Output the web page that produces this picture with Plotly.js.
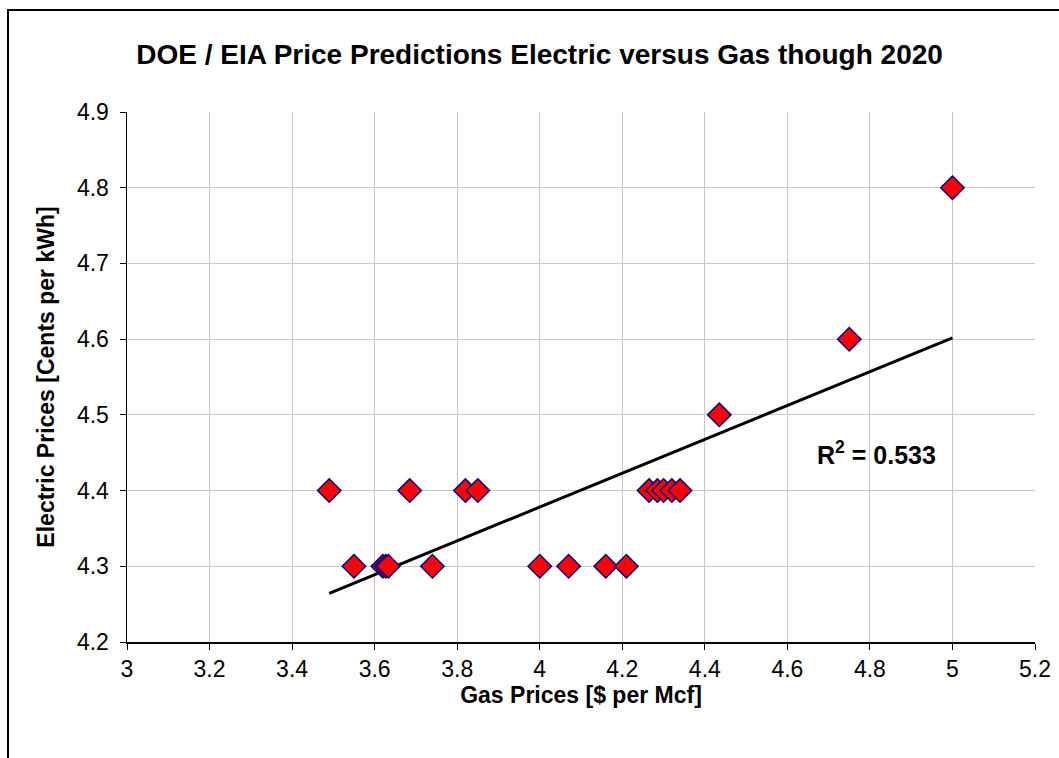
<!DOCTYPE html>
<html>
<head>
<meta charset="utf-8">
<script src="https://cdn.plot.ly/plotly-3.0.1.min.js"></script>
<style>
html,body{margin:0;padding:0;background:#fff;overflow:hidden;}
#chart{position:absolute;left:0;top:0;width:1059px;height:758px;}
#frame{position:absolute;left:7px;top:9px;width:1100px;height:800px;border:2px solid #000;pointer-events:none;}
</style>
</head>
<body>
<div id="chart"></div>
<div id="frame"></div>
<script>
const gasPrices = [3.49, 3.55, 3.62, 3.627, 3.633, 3.685, 3.74, 3.82, 3.85, 4.0, 4.07, 4.16, 4.21, 4.265, 4.285, 4.30, 4.32, 4.34, 4.435, 4.75, 5.0];
const electricPrices = [4.4, 4.3, 4.3, 4.3, 4.3, 4.4, 4.3, 4.4, 4.4, 4.3, 4.3, 4.3, 4.3, 4.4, 4.4, 4.4, 4.4, 4.4, 4.5, 4.6, 4.8];
const xTicks = [3, 3.2, 3.4, 3.6, 3.8, 4, 4.2, 4.4, 4.6, 4.8, 5, 5.2];
const yTicks = [4.2, 4.3, 4.4, 4.5, 4.6, 4.7, 4.8, 4.9];
const rSquaredLabel = 'R<sup>2</sup> = 0.533';

// least-squares trendline from the data
const n = gasPrices.length;
const mx = gasPrices.reduce((a,b)=>a+b,0)/n;
const my = electricPrices.reduce((a,b)=>a+b,0)/n;
let sxy=0, sxx=0;
for(let i=0;i<n;i++){sxy+=(gasPrices[i]-mx)*(electricPrices[i]-my);sxx+=(gasPrices[i]-mx)**2;}
const slope = sxy/sxx, icpt = my - slope*mx;
const xMin = Math.min(...gasPrices), xMax = Math.max(...gasPrices);
const trendX = [xMin, xMax];
const trendY = trendX.map(x=>icpt+slope*x);

const font = 'Liberation Sans, Arial, sans-serif';
const data = [
  {x: trendX, y: trendY, mode:'lines', type:'scatter', line:{color:'#000', width:3}, hoverinfo:'skip'},
  {x: gasPrices, y: electricPrices, mode:'markers', type:'scatter',
   marker:{symbol:'diamond', size:18, color:'#ff0000', line:{color:'#000080', width:1.5}}}
];
const layout = {
  width:1059, height:758,
  margin:{l:127, r:24, t:112, b:116},
  paper_bgcolor:'rgba(0,0,0,0)', plot_bgcolor:'#fff',
  showlegend:false,
  font:{family:font, color:'#000', size:23},
  title:{text:'<b>DOE / EIA Price Predictions Electric versus Gas though 2020</b>', font:{family:font, size:28, color:'#000'},
         x:0.5095, xref:'container', xanchor:'center', y:0.928, yref:'container', yanchor:'middle'},
  xaxis:{range:[3,5.2], tickvals:xTicks, ticktext:xTicks.map(String), showgrid:true, gridcolor:'#c8c8c8', gridwidth:1,
         zeroline:false, showline:true, linecolor:'#000', linewidth:1.5, ticks:'outside', ticklen:6, tickcolor:'#000',
         tickfont:{size:23}, title:{text:'<b>Gas Prices [$ per Mcf]</b>', font:{size:23}, standoff:0}},
  yaxis:{range:[4.2,4.9], tickvals:yTicks, ticktext:yTicks.map(v=>v.toFixed(1)), showgrid:true, gridcolor:'#c8c8c8', gridwidth:1,
         zeroline:false, showline:true, linecolor:'#000', linewidth:1.5, ticks:'outside', ticklen:6, tickcolor:'#000',
         ticklabelstandoff:6,
         tickfont:{size:23}, title:{text:'<b>Electric Prices [Cents per kWh]</b>', font:{size:23}, standoff:16}},
  annotations:[{text:'<b>'+rSquaredLabel+'</b>', x:4.815, y:4.45, xref:'x', yref:'y', showarrow:false, font:{size:25, family:font}}]
};
Plotly.newPlot('chart', data, layout, {displayModeBar:false, staticPlot:true});
</script>
</body>
</html>
